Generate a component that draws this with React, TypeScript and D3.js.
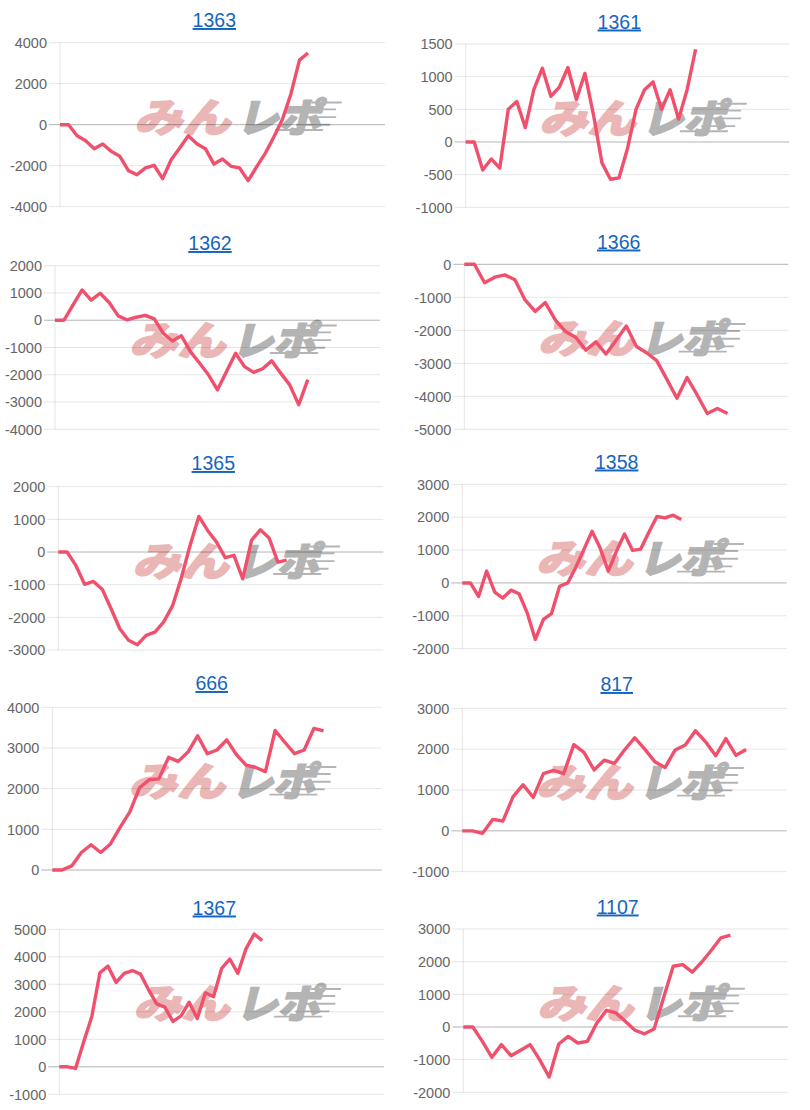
import React from "react";
import * as d3 from "d3";

// ---- data (cumulative values per machine) ----
const titles = ["1363", "1361", "1362", "1366", "1365", "1358", "666", "817", "1367", "1107"];

const s1363 = [0, 0, -540, -780, -1170, -940, -1300, -1540, -2240, -2440, -2110, -1980, -2630, -1710, -1140, -540, -930, -1170, -1920, -1670, -2030, -2110, -2730, -2050, -1400, -600, 250, 1500, 3150, 3500];
const s1361 = [0, 0, -430, -260, -400, 500, 620, 220, 800, 1130, 700, 840, 1140, 650, 1050, 420, -320, -570, -550, -100, 500, 800, 920, 500, 800, 350, 800, 1420];
const s1362 = [0, 0, 560, 1110, 740, 990, 650, 160, 10, 110, 180, 50, -480, -760, -570, -1150, -1570, -2000, -2550, -1880, -1210, -1700, -1910, -1780, -1490, -1940, -2370, -3100, -2180];
const s1366 = [0, 0, -560, -390, -320, -470, -1080, -1430, -1160, -1690, -2040, -2210, -2600, -2350, -2720, -2300, -1870, -2490, -2680, -2920, -3480, -4060, -3430, -3960, -4520, -4370, -4520];
const s1365 = [0, 0, -410, -990, -900, -1140, -1730, -2350, -2700, -2840, -2550, -2450, -2140, -1650, -800, 200, 1090, 660, 310, -170, -100, -820, 360, 680, 430, -310, -250];
const s1358 = [0, 0, -410, 360, -280, -460, -220, -330, -910, -1720, -1110, -930, -100, 0, 480, 1020, 1570, 1060, 360, 960, 1490, 990, 1030, 1540, 2020, 1980, 2060, 1930];
const s666 = [0, 0, 100, 430, 620, 430, 640, 1050, 1430, 2020, 2220, 2240, 2770, 2670, 2900, 3300, 2860, 2950, 3200, 2840, 2580, 2520, 2420, 3430, 3140, 2860, 2950, 3480, 3420];
const s817 = [0, 0, -60, 280, 240, 830, 1130, 820, 1400, 1480, 1400, 2110, 1920, 1490, 1730, 1650, 1980, 2280, 2000, 1690, 1550, 1980, 2100, 2450, 2180, 1840, 2260, 1850, 1990];
const s1367 = [0, 0, -60, 900, 1820, 3420, 3660, 3070, 3400, 3500, 3370, 2800, 2290, 2170, 1650, 1850, 2350, 1760, 2690, 2550, 3580, 3920, 3400, 4290, 4830, 4590];
const s1107 = [0, 0, -440, -930, -540, -880, -710, -540, -1000, -1530, -520, -290, -490, -440, 120, 510, 430, 170, -100, -210, -60, 900, 1860, 1910, 1680, 1990, 2350, 2730, 2810];

const seriesList = [s1363, s1361, s1362, s1366, s1365, s1358, s666, s817, s1367, s1107];

// number of x categories (days) on each chart's axis
const categoryCounts = [39, 39, 37, 33, 38, 41, 35, 33, 41, 35];

// y-axis domains and tick steps
const yMins = [-4000, -1000, -4000, -5000, -3000, -2000, 0, -1000, -1000, -2000];
const yMaxs = [4000, 1500, 2000, 0, 2000, 3000, 4000, 3000, 5000, 3000];
const yStepsList = [2000, 500, 1000, 1000, 1000, 1000, 1000, 1000, 1000, 1000];

// ---- layout (panel frames, not data) ----
const frames = [
  { l: 60, r: 385, t: 42.7, b: 206.7, tx: 214.3, ty: 27 },
  { l: 465.7, r: 789.3, t: 44, b: 207.3, tx: 619.3, ty: 28.5 },
  { l: 55, r: 380, t: 265.7, b: 429.3, tx: 210, ty: 250 },
  { l: 464.3, r: 788.3, t: 264.3, b: 429.3, tx: 618.7, ty: 248.5 },
  { l: 58.3, r: 383.3, t: 486.7, b: 650, tx: 213.3, ty: 470 },
  { l: 462.3, r: 786.7, t: 484.3, b: 648.7, tx: 616.7, ty: 468.5 },
  { l: 52.3, r: 381.7, t: 707.3, b: 870, tx: 211.7, ty: 690 },
  { l: 462.3, r: 786.7, t: 708.3, b: 871.7, tx: 616.7, ty: 691 },
  { l: 59.3, r: 384, t: 929.3, b: 1094.3, tx: 214.3, ty: 914.5 },
  { l: 463.3, r: 787.7, t: 929, b: 1092.3, tx: 617.7, ty: 913.5 },
];

const LINE = "rgb(240, 80, 108)";
const FONT = "'Liberation Sans', Arial, Helvetica, sans-serif";
const PINK = "#ebb6b6";
const GRAY = "#b4b4b4";

function Watermark({ cx, by }: { cx: number; by: number }) {
  const speed = [
    { y: -34, x1: 70, x2: 100 },
    { y: -26, x1: 76, x2: 96 },
    { y: -17, x1: 66, x2: 98 },
    { y: -8, x1: 60, x2: 94 },
    { y: -2, x1: 40, x2: 88 },
  ];
  return (
    <g transform={`translate(${cx},${by}) skewX(-14) scale(1,0.86)`}>
      <g fontFamily="'Noto Sans CJK JP', sans-serif" fontWeight={900}>
        <text x={-100} y={0} fontSize={46} fill={PINK} stroke={PINK} strokeWidth={2} strokeLinejoin="round" textLength={96} lengthAdjust="spacingAndGlyphs">
          みん
        </text>
        <text x={2} y={0} fontSize={46} fill={GRAY} stroke={GRAY} strokeWidth={2} strokeLinejoin="round" textLength={84} lengthAdjust="spacingAndGlyphs">
          レポ
        </text>
      </g>
      {speed.map((s, k) => (
        <line key={k} x1={s.x1} x2={s.x2} y1={s.y} y2={s.y} stroke={GRAY} strokeWidth={2.2} />
      ))}
    </g>
  );
}

function Panel({ i }: { i: number }) {
  const f = frames[i];
  const data = seriesList[i];
  const n = categoryCounts[i];
  const x = d3.scaleLinear().domain([0, n - 1]).range([f.l, f.r]);
  const y = d3.scaleLinear().domain([yMins[i], yMaxs[i]]).range([f.b, f.t]);
  const ticks = d3.range(yMins[i], yMaxs[i] + 1, yStepsList[i]);
  const line = d3
    .line<number>()
    .x((_, k) => x(k))
    .y((v) => y(v));
  const cx = (f.l + f.r) / 2 + 12;
  const wy = f.t + 89;
  return (
    <g>
      <text
        x={f.tx}
        y={f.ty}
        textAnchor="middle"
        fontFamily={FONT}
        fontSize={19.5}
        fill="#1565c0"
        textDecoration="underline"
      >
        {titles[i]}
      </text>
      <Watermark cx={cx} by={wy} />
      {/* grid lines */}
      {ticks.map((t) => (
        <line
          key={t}
          x1={f.l - 11}
          x2={f.r}
          y1={y(t)}
          y2={y(t)}
          stroke={t === 0 ? "rgba(0,0,0,0.3)" : "rgba(0,0,0,0.1)"}
          strokeWidth={1}
        />
      ))}
      <line x1={f.l} x2={f.l} y1={f.t} y2={f.b} stroke="rgba(0,0,0,0.1)" strokeWidth={1} />
      {ticks.map((t) => (
        <text
          key={"l" + t}
          x={f.l - 13}
          y={y(t)}
          dy="0.36em"
          textAnchor="end"
          fontFamily={FONT}
          fontSize={14.5}
          fill="#666"
        >
          {t}
        </text>
      ))}
      <path d={line(data) || ""} fill="none" stroke={LINE} strokeWidth={3.4} strokeLinejoin="round" strokeLinecap="butt" />
    </g>
  );
}

export default function App() {
  return (
    <div style={{ position: "absolute", left: 0, top: 0 }}>
      <svg width={810} height={1110} style={{ display: "block", background: "#fff" }}>
        {titles.map((_, i) => (
          <Panel key={i} i={i} />
        ))}
      </svg>
    </div>
  );
}
